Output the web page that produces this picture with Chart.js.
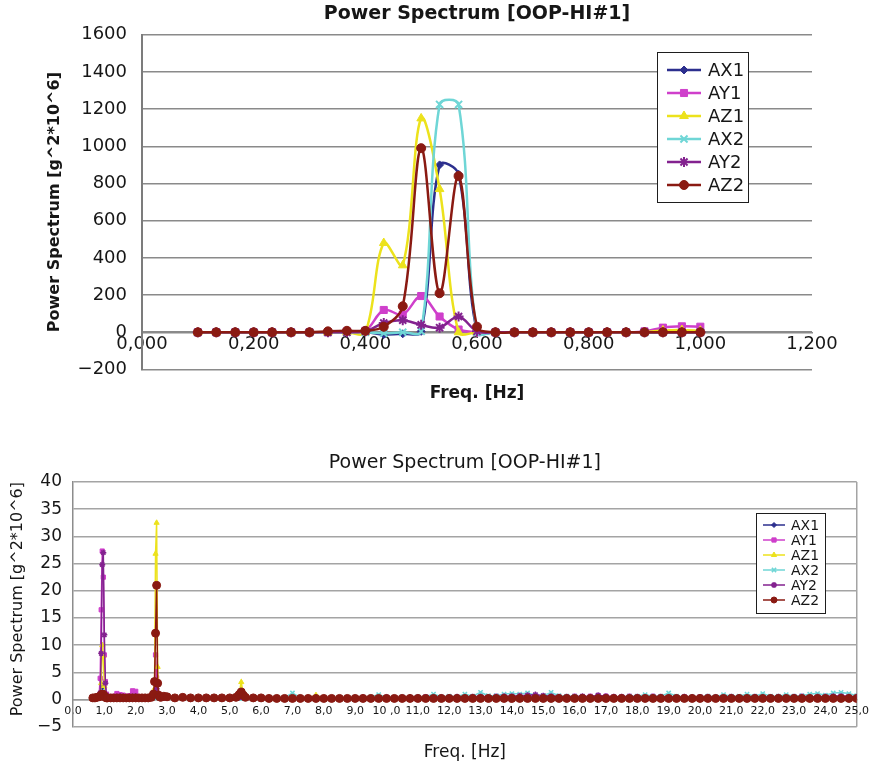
<!DOCTYPE html>
<html lang="en">
<head>
<meta charset="UTF-8">
<title>Power Spectrum [OOP-HI#1]</title>
<style>
    html, body {
        margin: 0;
        padding: 0;
        background: #fff;
    }
    body {
        width: 874px;
        height: 764px;
        position: relative;
        overflow: hidden;
    }
    #topChart { position: absolute; left: 0; top: 0; }
    #bottomChart { position: absolute; left: 0; top: 440px; }
</style>
</head>
<body>
<canvas id="topChart" width="874" height="420"></canvas>
<canvas id="bottomChart" width="874" height="324"></canvas>

<script src="https://cdn.jsdelivr.net/npm/chart.js@4.4.3/dist/chart.umd.min.js"></script>
<script>
    // ---- series ----
    const seriesNames = ['AX1', 'AY1', 'AZ1', 'AX2', 'AY2', 'AZ2'];

    // ---- 0-1.2 Hz zoom (upper chart) ----
    const topFreq = [0.100, 0.133, 0.167, 0.200, 0.233, 0.267, 0.300, 0.333, 0.367, 0.400,
                     0.433, 0.467, 0.500, 0.533, 0.567, 0.600, 0.633, 0.667, 0.700, 0.733,
                     0.767, 0.800, 0.833, 0.867, 0.900, 0.933, 0.967, 1.000];
    const topAX1 = [0, 0, 0, 0, 0, 0, 0, 0, 0, 2, -12, -8, 5, 900, 850, 5, 0, 0, 0, 0, 0, 0, 0, 0, 0, 0, 0, 0];
    const topAY1 = [0, 0, 0, 0, 0, 0, 0, 0, 5, 8, 120, 95, 195, 85, 15, 0, 0, 0, 0, 0, 0, 0, 0, 0, 5, 25, 32, 30];
    const topAZ1 = [0, 0, 0, 0, 0, 0, 0, 0, 0, 0, 480, 360, 1150, 770, 0, 0, 0, 0, 0, 0, 0, 0, 0, 0, 0, 10, 12, 8];
    const topAX2 = [0, 0, 0, 0, 0, 0, 0, 0, 0, 0, -5, 0, 5, 1225, 1225, 0, 0, 0, 0, 0, 0, 0, 0, 0, 0, 0, 0, 0];
    const topAY2 = [0, 0, 0, 0, 0, 0, 0, 0, 0, 5, 50, 65, 40, 25, 85, 5, 0, 0, 0, 0, 0, 0, 0, 0, 0, 0, 0, 0];
    const topAZ2 = [0, 0, 0, 0, 0, 0, 0, 5, 8, 8, 30, 140, 990, 210, 840, 30, 0, 0, 0, 0, 0, 0, 0, 0, 0, 0, 0, 0];

    const topXTicks = [0, 0.2, 0.4, 0.6, 0.8, 1.0, 1.2];
    const topXTickLabels = ['0,000', '0,200', '0,400', '0,600', '0,800', '1,000', '1,200'];
    const topYTicks = [-200, 0, 200, 400, 600, 800, 1000, 1200, 1400, 1600];
    const topYTickLabels = ['\u2212200', '0', '200', '400', '600', '800', '1000', '1200', '1400', '1600'];

    // ---- 0-25 Hz full range (lower chart) ----
    const bottomFreq = [
        0.633, 0.7, 0.767, 0.833, 0.867, 0.9, 0.933, 0.967, 1.0, 1.033,
        1.067, 1.1, 1.2, 1.3, 1.4, 1.5, 1.6, 1.7, 1.8, 1.9,
        2.0, 2.1, 2.2, 2.3, 2.4, 2.5, 2.567, 2.6, 2.633, 2.667,
        2.7, 2.733, 2.767, 2.8, 2.9, 3.0, 3.25, 3.5, 3.75, 4.0,
        4.25, 4.5, 4.75, 5.0, 5.2, 5.3, 5.367, 5.433, 5.5, 5.75, 6.0,
        6.25, 6.5, 6.75, 7.0, 7.25, 7.5, 7.75, 8.0, 8.25, 8.5, 8.75, 9.0, 9.25, 9.5, 9.75, 10.0,
        10.25, 10.5, 10.75, 11.0, 11.25, 11.5, 11.75, 12.0, 12.25, 12.5, 12.75, 13.0, 13.25, 13.5, 13.75, 14.0,
        14.25, 14.5, 14.75, 15.0, 15.25, 15.5, 15.75, 16.0, 16.25, 16.5, 16.75, 17.0, 17.25, 17.5, 17.75, 18.0,
        18.25, 18.5, 18.75, 19.0, 19.25, 19.5, 19.75, 20.0, 20.25, 20.5, 20.75, 21.0, 21.25, 21.5, 21.75, 22.0,
        22.25, 22.5, 22.75, 23.0, 23.25, 23.5, 23.75, 24.0, 24.25, 24.5, 24.75, 25.0
    ];
    const bottomAX1 = [
        0.1, 0.2, 0.3, 0.5, 0.8, 1.5, 2.5, 2.0, 1.0, 0.4,
        0.3, 0.2, 0.2, 0.2, 0.2, 0.2, 0.2, 0.2, 0.2, 0.2,
        0.2, 0.2, 0.2, 0.2, 0.2, 0.2, 0.3, 0.5, 0.8, 1.0,
        0.5, 0.3, 0.2, 0.2, 0.2, 0.2, 0.2, 0.2, 0.2, 0.2,
        0.2, 0.2, 0.2, 0.2, 0.2, 0.3, 0.4, 0.3, 0.2, 0.2, 0.2,
        0.2, 0.2, 0.2, 0.3, 0.2, 0.2, 0.2, 0.2, 0.3, 0.2, 0.2, 0.2, 0.3, 0.2, 0.3, 0.3,
        0.3, 0.3, 0.3, 0.3, 0.4, 0.4, 0.3, 0.4, 0.4, 0.5, 0.4, 0.5, 0.4, 0.5, 0.5, 0.5,
        0.5, 0.6, 0.6, 0.6, 0.7, 0.5, 0.5, 0.4, 0.5, 0.4, 0.5, 0.4, 0.4, 0.4, 0.5, 0.4,
        0.4, 0.4, 0.5, 0.4, 0.4, 0.4, 0.4, 0.4, 0.4, 0.4, 0.4, 0.5, 0.4, 0.4, 0.4, 0.4,
        0.4, 0.4, 0.4, 0.5, 0.4, 0.5, 0.5, 0.5, 0.5, 0.6, 0.5, 0.5
    ];
    const bottomAY1 = [
        0.3, 0.4, 0.6, 0.8, 3.9, 16.5, 27.3, 22.5, 8.2, 3.3,
        1.0, 0.6, 0.5, 0.6, 1.1, 0.9, 0.8, 0.5, 0.7, 1.6,
        1.5, 0.5, 0.4, 0.3, 0.4, 0.5, 0.8, 1.5, 8.2, 4.0,
        1.2, 0.5, 0.4, 0.3, 0.4, 0.3, 0.3, 0.2, 0.3, 0.2,
        0.3, 0.2, 0.3, 0.3, 0.3, 0.5, 0.6, 0.4, 0.3, 0.2, 0.3,
        0.3, 0.2, 0.3, 0.4, 0.3, 0.3, 0.2, 0.3, 0.3, 0.2, 0.3, 0.3, 0.4, 0.3, 0.3, 0.4,
        0.3, 0.4, 0.3, 0.4, 0.5, 0.4, 0.4, 0.5, 0.4, 0.5, 0.5, 0.6, 0.5, 0.6, 0.5, 0.6,
        0.6, 0.7, 0.6, 0.5, 0.6, 0.5, 0.5, 0.6, 0.5, 0.6, 0.7, 0.6, 0.5, 0.5, 0.6, 0.5,
        0.5, 0.6, 0.5, 0.5, 0.4, 0.5, 0.4, 0.5, 0.5, 0.4, 0.5, 0.5, 0.4, 0.5, 0.5, 0.4,
        0.5, 0.4, 0.5, 0.5, 0.6, 0.5, 0.5, 0.6, 0.6, 0.7, 0.6, 0.5
    ];
    const bottomAZ1 = [
        0.1, 0.2, 0.3, 0.5, 1.0, 3.0, 10.0, 8.0, 2.5, 0.6,
        0.3, 0.2, 0.2, 0.2, 0.2, 0.2, 0.2, 0.2, 0.2, 0.3,
        0.3, 0.2, 0.2, 0.2, 0.2, 0.3, 0.5, 2.0, 26.8, 32.5,
        6.0, 0.8, 0.3, 0.2, 0.2, 0.2, 0.2, 0.2, 0.2, 0.2,
        0.2, 0.2, 0.2, 0.2, 0.3, 1.2, 3.2, 1.0, 0.3, 0.2, 0.2,
        0.2, 0.2, 0.2, 0.2, 0.2, 0.2, 0.8, 0.2, 0.2, 0.2, 0.2, 0.2, 0.2, 0.2, 0.2, 0.2,
        0.2, 0.2, 0.2, 0.2, 0.2, 0.2, 0.2, 0.2, 0.2, 0.2, 0.2, 0.2, 0.2, 0.2, 0.2, 0.2,
        0.2, 0.2, 0.3, 0.2, 0.2, 0.2, 0.2, 0.2, 0.2, 0.2, 0.2, 0.2, 0.2, 0.2, 0.2, 0.2,
        0.2, 0.2, 0.2, 0.2, 0.2, 0.2, 0.2, 0.2, 0.2, 0.2, 0.2, 0.2, 0.2, 0.2, 0.2, 0.2,
        0.2, 0.2, 0.2, 0.2, 0.2, 0.2, 0.2, 0.2, 0.2, 0.2, 0.2, 0.2
    ];
    const bottomAX2 = [
        0.1, 0.2, 0.3, 0.4, 0.6, 1.0, 1.5, 1.2, 0.6, 0.3,
        0.3, 0.2, 0.2, 0.2, 0.2, 0.2, 0.2, 0.2, 0.2, 0.2,
        0.2, 0.2, 0.2, 0.2, 0.2, 0.2, 0.3, 0.4, 0.6, 0.7,
        0.4, 0.3, 0.2, 0.2, 0.2, 0.2, 0.2, 0.2, 0.2, 0.2,
        0.2, 0.2, 0.2, 0.2, 0.2, 0.2, 0.3, 0.2, 0.2, 0.2, 0.3,
        0.3, 0.3, 0.4, 1.2, 0.4, 0.3, 0.3, 0.3, 0.4, 0.3, 0.3, 0.4, 0.4, 0.5, 0.9, 0.4,
        0.4, 0.5, 0.4, 0.5, 0.5, 1.0, 0.5, 0.6, 0.5, 1.0, 0.6, 1.3, 0.7, 0.7, 1.0, 1.1,
        1.0, 1.2, 0.8, 0.7, 1.3, 0.7, 0.6, 0.6, 0.5, 0.5, 0.6, 0.5, 0.5, 0.5, 0.6, 0.6,
        0.9, 0.6, 0.6, 1.2, 0.6, 0.5, 0.5, 0.5, 0.6, 0.5, 0.9, 0.6, 0.6, 1.0, 0.6, 1.1,
        0.6, 0.6, 0.9, 0.6, 0.7, 1.0, 1.1, 0.8, 1.2, 1.3, 1.1, 0.7
    ];
    const bottomAY2 = [
        0.2, 0.3, 0.5, 0.7, 1.2, 8.5, 24.8, 27.0, 11.9, 3.0,
        0.8, 0.5, 0.4, 0.4, 0.5, 0.6, 0.5, 0.4, 0.5, 0.6,
        0.6, 0.4, 0.3, 0.3, 0.3, 0.4, 0.6, 1.0, 3.0, 2.0,
        0.8, 0.4, 0.3, 0.3, 0.3, 0.3, 0.2, 0.3, 0.2, 0.3,
        0.2, 0.3, 0.2, 0.3, 0.3, 0.4, 0.5, 0.4, 0.3, 0.2, 0.3,
        0.2, 0.3, 0.3, 0.3, 0.2, 0.3, 0.3, 0.2, 0.3, 0.3, 0.3, 0.2, 0.3, 0.3, 0.3, 0.4,
        0.3, 0.3, 0.4, 0.4, 0.3, 0.4, 0.4, 0.4, 0.5, 0.4, 0.5, 0.5, 0.4, 0.5, 0.6, 0.6,
        0.7, 0.8, 0.9, 0.7, 0.6, 0.5, 0.5, 0.5, 0.6, 0.5, 0.8, 0.6, 0.5, 0.5, 0.5, 0.5,
        0.4, 0.5, 0.5, 0.4, 0.4, 0.5, 0.4, 0.4, 0.5, 0.4, 0.4, 0.5, 0.4, 0.4, 0.5, 0.4,
        0.4, 0.5, 0.4, 0.5, 0.5, 0.4, 0.5, 0.5, 0.6, 0.6, 0.5, 0.5
    ];
    const bottomAZ2 = [
        0.3, 0.3, 0.4, 0.5, 0.6, 0.8, 1.0, 0.9, 0.6, 0.4,
        0.3, 0.3, 0.3, 0.3, 0.3, 0.3, 0.3, 0.3, 0.3, 0.3,
        0.3, 0.3, 0.3, 0.3, 0.3, 0.4, 1.0, 3.3, 12.2, 21.0,
        3.0, 0.8, 0.5, 0.4, 0.6, 0.5, 0.3, 0.4, 0.3, 0.3,
        0.3, 0.3, 0.3, 0.3, 0.4, 0.9, 1.4, 0.8, 0.4, 0.3, 0.3,
        0.2, 0.2, 0.2, 0.2, 0.2, 0.2, 0.2, 0.2, 0.2, 0.2, 0.2, 0.2, 0.2, 0.2, 0.2, 0.2,
        0.2, 0.2, 0.2, 0.2, 0.2, 0.2, 0.2, 0.2, 0.2, 0.2, 0.2, 0.2, 0.2, 0.2, 0.2, 0.2,
        0.2, 0.2, 0.2, 0.2, 0.2, 0.2, 0.2, 0.2, 0.2, 0.2, 0.2, 0.2, 0.2, 0.2, 0.2, 0.2,
        0.2, 0.2, 0.2, 0.2, 0.2, 0.2, 0.2, 0.2, 0.2, 0.2, 0.2, 0.2, 0.2, 0.2, 0.2, 0.2,
        0.2, 0.2, 0.2, 0.2, 0.2, 0.2, 0.2, 0.2, 0.2, 0.2, 0.2, 0.2
    ];

    const bottomXTicks = [0, 1, 2, 3, 4, 5, 6, 7, 8, 9, 10, 11, 12, 13, 14, 15, 16, 17, 18, 19, 20, 21, 22, 23, 24, 25];
    const bottomXTickLabels = ['0,0', '1,0', '2,0', '3,0', '4,0', '5,0', '6,0', '7,0', '8,0', '9,0', '10 ,0',
        '11,0', '12,0', '13,0', '14,0', '15,0', '16,0', '17,0', '18,0', '19,0', '20,0', '21,0', '22,0',
        '23,0', '24,0', '25,0'];
    const bottomYTicks = [-5, 0, 5, 10, 15, 20, 25, 30, 35, 40];
    const bottomYTickLabels = ['\u22125', '0', '5', '10', '15', '20', '25', '30', '35', '40'];

    // ---- look ----
    const FONT = '"DejaVu Sans", "Liberation Sans", sans-serif';
    const TEXT = '#161616';
    const seriesColors = ['#2c2f8e', '#cf3fcb', '#ece21c', '#6fd6d6', '#83228f', '#8a1a12'];
    const seriesMarkers = ['rectRot', 'rect', 'triangle', 'crossRot', 'star', 'circle'];

    Chart.defaults.font.family = FONT;
    Chart.defaults.color = TEXT;

    function buildDatasets(freqs, seriesValues, style) {
        return seriesValues.map((values, i) => ({
            label: seriesNames[i],
            data: freqs.map((f, k) => ({ x: f, y: values[k] })),
            xAxisID: 'x',
            yAxisID: 'y',
            showLine: true,
            borderColor: seriesColors[i],
            backgroundColor: seriesColors[i],
            pointBorderColor: seriesColors[i],
            pointBackgroundColor: seriesColors[i],
            borderWidth: style.lineWidth,
            pointStyle: seriesMarkers[i],
            pointRadius: style.radius[i],
            pointBorderWidth: style.markerBorder[i],
            tension: style.tension,
            // last series on top, like the spreadsheet draws them
            order: seriesNames.length - i
        }));
    }

    // a hidden top axis whose title works as the chart heading,
    // so the heading is centred over the plot area
    function headingAxis(text, size, weight, padTop, padBottom) {
        return {
            type: 'linear',
            axis: 'x',
            position: 'top',
            min: 0,
            max: 1,
            ticks: { display: false },
            grid: { display: false, drawTicks: false },
            border: { display: false },
            title: {
                display: true,
                text: text,
                color: TEXT,
                font: { size: size, weight: weight },
                padding: { top: padTop, bottom: padBottom }
            }
        };
    }

    // framed legend sitting inside the plot: line sample, marker, name
    const boxLegend = {
        id: 'boxLegend',
        afterDraw(chart, args, opts) {
            const ctx = chart.ctx;
            ctx.save();
            ctx.fillStyle = '#fff';
            ctx.fillRect(opts.left, opts.top, opts.width, opts.height);
            ctx.strokeStyle = '#1e1e1e';
            ctx.lineWidth = 1;
            ctx.strokeRect(opts.left + 0.5, opts.top + 0.5, opts.width, opts.height);
            ctx.font = opts.font;
            ctx.textBaseline = 'middle';
            ctx.textAlign = 'left';
            chart.data.datasets.forEach((ds, i) => {
                const y = opts.top + opts.firstRow + i * opts.rowGap;
                const x0 = opts.left + opts.lineStart;
                ctx.strokeStyle = ds.borderColor;
                ctx.lineWidth = ds.borderWidth;
                ctx.beginPath();
                ctx.moveTo(x0, y);
                ctx.lineTo(x0 + opts.lineLength, y);
                ctx.stroke();
                ctx.fillStyle = ds.pointBackgroundColor;
                ctx.strokeStyle = ds.pointBorderColor;
                ctx.lineWidth = ds.pointBorderWidth;
                const cx = x0 + opts.lineLength / 2;
                const r = Math.min(ds.pointRadius, opts.maxMarker);
                if (Chart.helpers && Chart.helpers.drawPoint) {
                    Chart.helpers.drawPoint(ctx, {
                        pointStyle: ds.pointStyle,
                        radius: r,
                        rotation: 0,
                        borderWidth: ds.pointBorderWidth
                    }, cx, y);
                } else {
                    ctx.beginPath();
                    ctx.arc(cx, y, r, 0, Math.PI * 2);
                    ctx.fill();
                }
                ctx.fillStyle = TEXT;
                ctx.fillText(ds.label, opts.left + opts.textStart, y + 1);
            });
            ctx.restore();
        }
    };

    // ---- upper chart ----
    new Chart(document.getElementById('topChart'), {
        type: 'scatter',
        data: {
            datasets: buildDatasets(topFreq, [topAX1, topAY1, topAZ1, topAX2, topAY2, topAZ2], {
                lineWidth: 2.5,
                tension: 0.35,
                radius: [4, 5, 5, 5, 5, 4.5],
                markerBorder: [1, 1, 1, 2, 2, 1]
            })
        },
        options: {
            responsive: false,
            animation: false,
            devicePixelRatio: 1,
            layout: { padding: { left: 0, right: 62, top: 0, bottom: 50.5 } },
            plugins: {
                legend: { display: false },
                tooltip: { enabled: false },
                title: { display: false },
                boxLegend: {
                    left: 657, top: 52, width: 91, height: 150,
                    firstRow: 18, rowGap: 23,
                    lineStart: 10, lineLength: 34, textStart: 51,
                    maxMarker: 5,
                    font: '18px ' + FONT
                }
            },
            scales: {
                x: {
                    type: 'linear',
                    position: { y: 0 },
                    min: 0,
                    max: 1.2,
                    afterBuildTicks: axis => { axis.ticks = topXTicks.map(v => ({ value: v })); },
                    ticks: {
                        callback: (v, i) => topXTickLabels[i],
                        font: { size: 18 },
                        color: TEXT,
                        padding: 1,
                        maxRotation: 0,
                        autoSkip: false
                    },
                    grid: { display: false, drawTicks: false },
                    border: { display: true, color: '#8a8a8a', width: 1.5 },
                    title: {
                        display: true,
                        text: 'Freq. [Hz]',
                        color: TEXT,
                        font: { size: 17, weight: 'bold' },
                        padding: { top: 27, bottom: 0 }
                    }
                },
                y: {
                    type: 'linear',
                    min: -200,
                    max: 1600,
                    afterBuildTicks: axis => { axis.ticks = topYTicks.map(v => ({ value: v })); },
                    afterFit: axis => { axis.width = 142; },
                    ticks: {
                        callback: (v, i) => topYTickLabels[i],
                        font: { size: 18 },
                        color: TEXT,
                        padding: 15
                    },
                    grid: { color: '#8a8a8a', lineWidth: 1.6, drawTicks: false },
                    border: { display: true, color: '#7c7c7c', width: 2 },
                    title: {
                        display: true,
                        text: 'Power Spectrum [g^2*10^6]',
                        color: TEXT,
                        font: { size: 16, weight: 'bold' },
                        padding: { top: 45, bottom: 0 }
                    }
                },
                heading: headingAxis('Power Spectrum [OOP-HI#1]', 19, 'bold', 2.6, 9.3)
            }
        },
        plugins: [boxLegend]
    });

    // ---- lower chart ----
    new Chart(document.getElementById('bottomChart'), {
        type: 'scatter',
        data: {
            datasets: buildDatasets(bottomFreq, [bottomAX1, bottomAY1, bottomAZ1, bottomAX2, bottomAY2, bottomAZ2], {
                lineWidth: 1.5,
                tension: 0,
                radius: [2.5, 3, 3, 3, 3, 4],
                markerBorder: [1, 1, 1, 1.5, 1.5, 1]
            })
        },
        options: {
            responsive: false,
            animation: false,
            devicePixelRatio: 1,
            layout: { padding: { left: 0, right: 12, top: 0, bottom: 37.3 } },
            plugins: {
                legend: { display: false },
                tooltip: { enabled: false },
                title: { display: false },
                boxLegend: {
                    left: 756, top: 73, width: 69, height: 100,
                    firstRow: 12, rowGap: 15,
                    lineStart: 7, lineLength: 22, textStart: 35,
                    maxMarker: 3,
                    font: '14px ' + FONT
                }
            },
            scales: {
                x: {
                    type: 'linear',
                    position: { y: 0 },
                    min: 0,
                    max: 25,
                    afterBuildTicks: axis => { axis.ticks = bottomXTicks.map(v => ({ value: v })); },
                    ticks: {
                        callback: (v, i) => bottomXTickLabels[i],
                        font: { size: 11 },
                        color: TEXT,
                        padding: 5,
                        maxRotation: 0,
                        autoSkip: false
                    },
                    // only the right frame edge is drawn from this grid
                    grid: {
                        drawTicks: false,
                        lineWidth: 1.5,
                        color: c => (c.tick && c.tick.value === 25) ? '#a4a4a4' : 'rgba(0,0,0,0)'
                    },
                    border: { display: true, color: '#9a9a9a', width: 1.5 },
                    title: {
                        display: true,
                        text: 'Freq. [Hz]',
                        color: TEXT,
                        font: { size: 17 },
                        padding: { top: 20, bottom: 0 }
                    }
                },
                y: {
                    type: 'linear',
                    min: -5,
                    max: 40,
                    afterBuildTicks: axis => { axis.ticks = bottomYTicks.map(v => ({ value: v })); },
                    afterFit: axis => { axis.width = 73; },
                    ticks: {
                        callback: (v, i) => bottomYTickLabels[i],
                        font: { size: 17 },
                        color: TEXT,
                        padding: 11
                    },
                    grid: { color: '#a4a4a4', lineWidth: 1.5, drawTicks: false },
                    border: { display: true, color: '#8c8c8c', width: 1.5 },
                    title: {
                        display: true,
                        text: 'Power Spectrum [g^2*10^6]',
                        align: 'end',
                        color: TEXT,
                        font: { size: 16 },
                        padding: { top: 8, bottom: 0 }
                    }
                },
                heading: headingAxis('Power Spectrum [OOP-HI#1]', 19, 'normal', 11.6, 7.6)
            }
        },
        plugins: [boxLegend]
    });
</script>
</body>
</html>
